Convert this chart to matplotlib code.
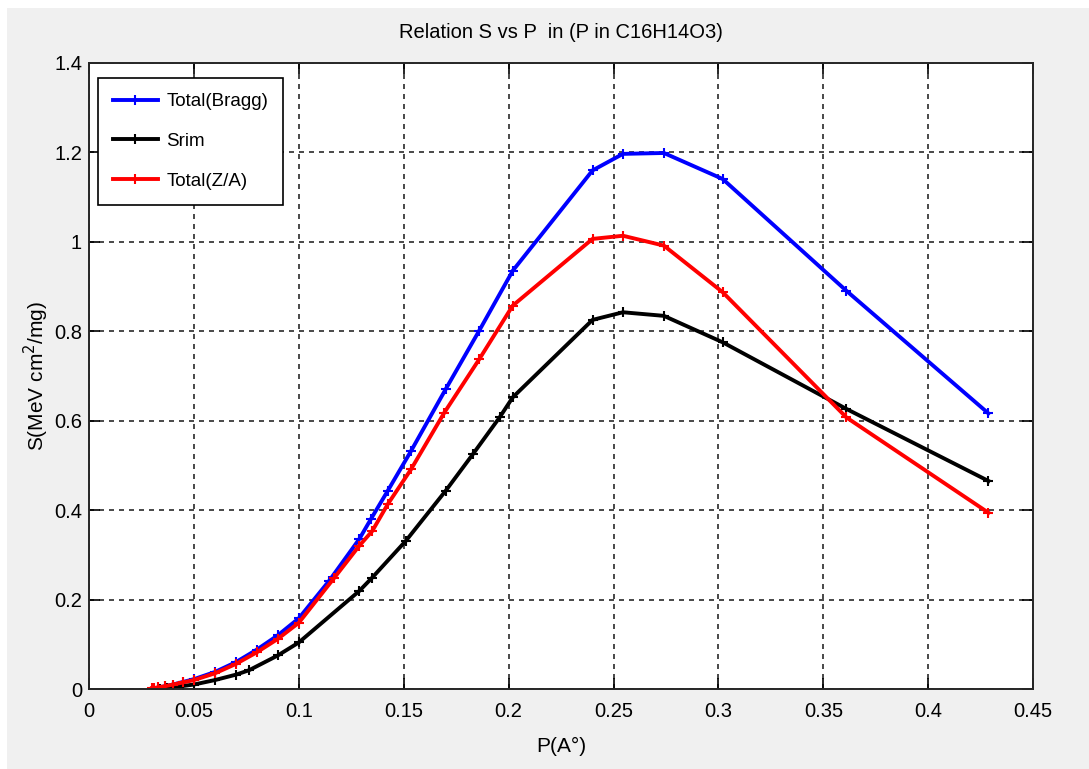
import matplotlib
matplotlib.use("Agg")
import matplotlib.pyplot as plt
from matplotlib.patches import Rectangle

# P (A°) and stopping power S (MeV cm2/mg)
p_bragg = [0.033, 0.036, 0.040, 0.045, 0.050, 0.060, 0.070, 0.080, 0.090, 0.100,
           0.1145, 0.1288, 0.1344, 0.1424, 0.1535, 0.170, 0.186, 0.202,
           0.240, 0.2545, 0.274, 0.302, 0.361, 0.4287]
s_bragg = [0.003, 0.006, 0.010, 0.016, 0.022, 0.038, 0.060, 0.088, 0.120, 0.158,
           0.242, 0.335, 0.380, 0.443, 0.532, 0.670, 0.801, 0.935,
           1.159, 1.196, 1.198, 1.140, 0.890, 0.616]

p_srim = [0.034, 0.037, 0.040, 0.045, 0.050, 0.060, 0.070, 0.0763, 0.090, 0.100,
          0.1288, 0.135, 0.151, 0.170, 0.183, 0.1957, 0.202,
          0.240, 0.2545, 0.274, 0.302, 0.361, 0.4287]
s_srim = [0.001, 0.002, 0.004, 0.007, 0.010, 0.020, 0.032, 0.042, 0.075, 0.104,
          0.219, 0.249, 0.331, 0.443, 0.525, 0.607, 0.652,
          0.825, 0.842, 0.834, 0.775, 0.626, 0.465]

p_za = [0.030, 0.031, 0.033, 0.036, 0.040, 0.045, 0.050, 0.060, 0.070, 0.080, 0.090, 0.100,
        0.117, 0.1288, 0.135, 0.1424, 0.1535, 0.1694, 0.186, 0.202,
        0.240, 0.2545, 0.274, 0.302, 0.361, 0.4287]
s_za = [0.002, 0.002, 0.004, 0.006, 0.010, 0.015, 0.020, 0.035, 0.056, 0.082, 0.112, 0.148,
        0.249, 0.320, 0.353, 0.413, 0.491, 0.618, 0.737, 0.857,
        1.006, 1.013, 0.991, 0.887, 0.607, 0.394]

x_ticks = [0, 0.05, 0.1, 0.15, 0.2, 0.25, 0.3, 0.35, 0.4, 0.45]
x_labels = ["0", "0.05", "0.1", "0.15", "0.2", "0.25", "0.3", "0.35", "0.4", "0.45"]
y_ticks = [0, 0.2, 0.4, 0.6, 0.8, 1.0, 1.2, 1.4]
y_labels = ["0", "0.2", "0.4", "0.6", "0.8", "1", "1.2", "1.4"]

plt.rcParams["font.family"] = ["Liberation Sans", "DejaVu Sans"]

fig = plt.figure(figsize=(10.89, 7.69), dpi=100, facecolor="#f0f0f0")
# thin white strips at top and left of the screenshot
fig.patches.append(Rectangle((0, 0.9896), 1, 0.0104, transform=fig.transFigure,
                             facecolor="white", edgecolor="none"))
fig.patches.append(Rectangle((0, 0), 0.0065, 1, transform=fig.transFigure,
                             facecolor="white", edgecolor="none"))

ax = fig.add_axes([0.0817, 0.104, 0.867, 0.8146])
ax.set_facecolor("white")

style = dict(linewidth=2.8, marker="+", markersize=7, markeredgewidth=1.5)
ax.plot(p_bragg, s_bragg, color="#0000ff", label="Total(Bragg)", **style)
ax.plot(p_srim, s_srim, color="black", label="Srim", **style)
ax.plot(p_za, s_za, color="#ff0000", label="Total(Z/A)", **style)

ax.set_xlim(0, 0.45)
ax.set_ylim(0, 1.4)
ax.set_xticks(x_ticks)
ax.set_xticklabels(x_labels)
ax.set_yticks(y_ticks)
ax.set_yticklabels(y_labels)
ax.tick_params(direction="in", length=8, width=1.2, top=True, right=True,
               labelsize=14.5, colors="black")
ax.tick_params(axis="x", pad=9)
ax.tick_params(axis="y", pad=5)
ax.grid(True, color="#2a2a2a", linestyle=(0, (3, 3)), linewidth=1.2)
for sp in ax.spines.values():
    sp.set_linewidth(1.4)
    sp.set_color("#262626")

ax.set_title("Relation S vs P  in (P in C16H14O3)", fontsize=14.5, pad=18)
ax.set_xlabel("P(A°)", fontsize=15, labelpad=12)
ax.set_ylabel("S(MeV cm$^2$/mg)", fontsize=15, labelpad=2)

leg = ax.legend(loc="upper left", bbox_to_anchor=(0.0095, 0.975), borderaxespad=0,
                fancybox=False, framealpha=1, edgecolor="black", fontsize=13.5,
                numpoints=1, handlelength=2.4, labelspacing=1.2, borderpad=0.8,
                handletextpad=0.45)
leg.get_frame().set_linewidth(1.2)

fig.savefig("out.png", dpi=100, facecolor=fig.get_facecolor())
